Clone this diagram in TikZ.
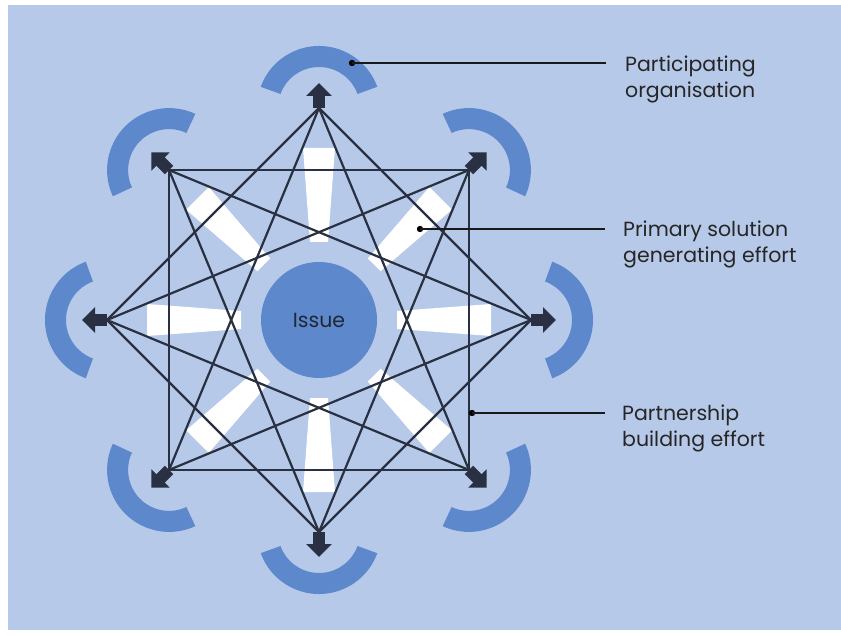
\documentclass[tikz,border=0pt]{standalone}
\usepackage{fontspec}
\setmainfont{Poppins}
\usetikzlibrary{calc,arrows.meta}
\definecolor{paper}{RGB}{182,201,233}
\definecolor{orgblue}{RGB}{93,136,204}
\definecolor{linknavy}{RGB}{40,48,66}
\tikzset{>={Triangle[width=25pt,length=13pt]},
  link/.style={draw=linknavy, line width=2.2pt},
  leader/.style={draw=black!90, line width=1.1pt},
  note/.style={font=\fontsize{20.5}{26}\selectfont, text=black!85, align=left, inner sep=0pt, anchor=north west}}

\begin{document}
\begin{tikzpicture}[x=1pt,y=-1pt]
          \def\rad{212}
          \fill[white] (0,0) rectangle (841,636);
          \fill[paper] (8,5) rectangle (841,630);
          \useasboundingbox (0,0) rectangle (841,636);
          \coordinate (O) at (319,320);
          % the eight organisations
          \foreach \i in {1,...,8}{
            \pgfmathsetmacro\a{(\i-1)*45}
            \coordinate (v\i) at ($(O)+(\a:\rad)$);
            \coordinate (tip\i) at ($(O)+(\a:237)$);
            \fill[orgblue] ($(v\i)+(\a-70:62)$) arc[start angle=\a-70, end angle=\a+70, radius=62]
              -- ($(v\i)+(\a+70:41)$) arc[start angle=\a+70, end angle=\a-70, radius=41] -- cycle;
          }
          % solution efforts
          \foreach \a in {0,45,...,315}{
            \begin{scope}[shift={(O)},rotate=\a]
              \fill[white] (78,-9) -- (172,-16) -- (172,16) -- (78,9) -- cycle;
            \end{scope}
          }
          \node[circle, fill=orgblue, minimum size=116pt, inner sep=0pt,
                font=\fontsize{20.5}{24}\selectfont, text=linknavy!80!black] (issue) at (O) {Issue};
          % partnerships
          \foreach \i in {1,...,8}{
            \pgfmathtruncatemacro\j{mod(\i+1,8)+1}
            \pgfmathtruncatemacro\k{mod(\i+2,8)+1}
            \draw[link] (v\i) -- (v\j);
            \draw[link] (v\i) -- (v\k);
          }
          \begin{scope}[->]
            \foreach \i in {1,...,8}
              \draw[linknavy, line width=12pt] (v\i) -- (tip\i);
          \end{scope}
          % legend
          \node[note] (org) at (625,56) {Participating\\organisation};
          \node[note] (sol) at (623,221) {Primary solution\\generating effort};
          \node[note] (part) at (622,405) {Partnership\\building effort};
          \coordinate (p1) at (352,63);
          \coordinate (p2) at (420,229);
          \coordinate (p3) at (472,413);
          \coordinate (e1) at (606,63);
          \coordinate (e2) at (605,229);
          \coordinate (e3) at (605,413);
          \fill (p1) circle (3.2);
          \fill (p2) circle (3.2);
          \fill (p3) circle (3.2);
          \draw[leader] (p1) -- (e1);
          \draw[leader] (p2) -- (e2);
          \draw[leader] (p3) -- (e3);
        \end{tikzpicture}
\end{document}
